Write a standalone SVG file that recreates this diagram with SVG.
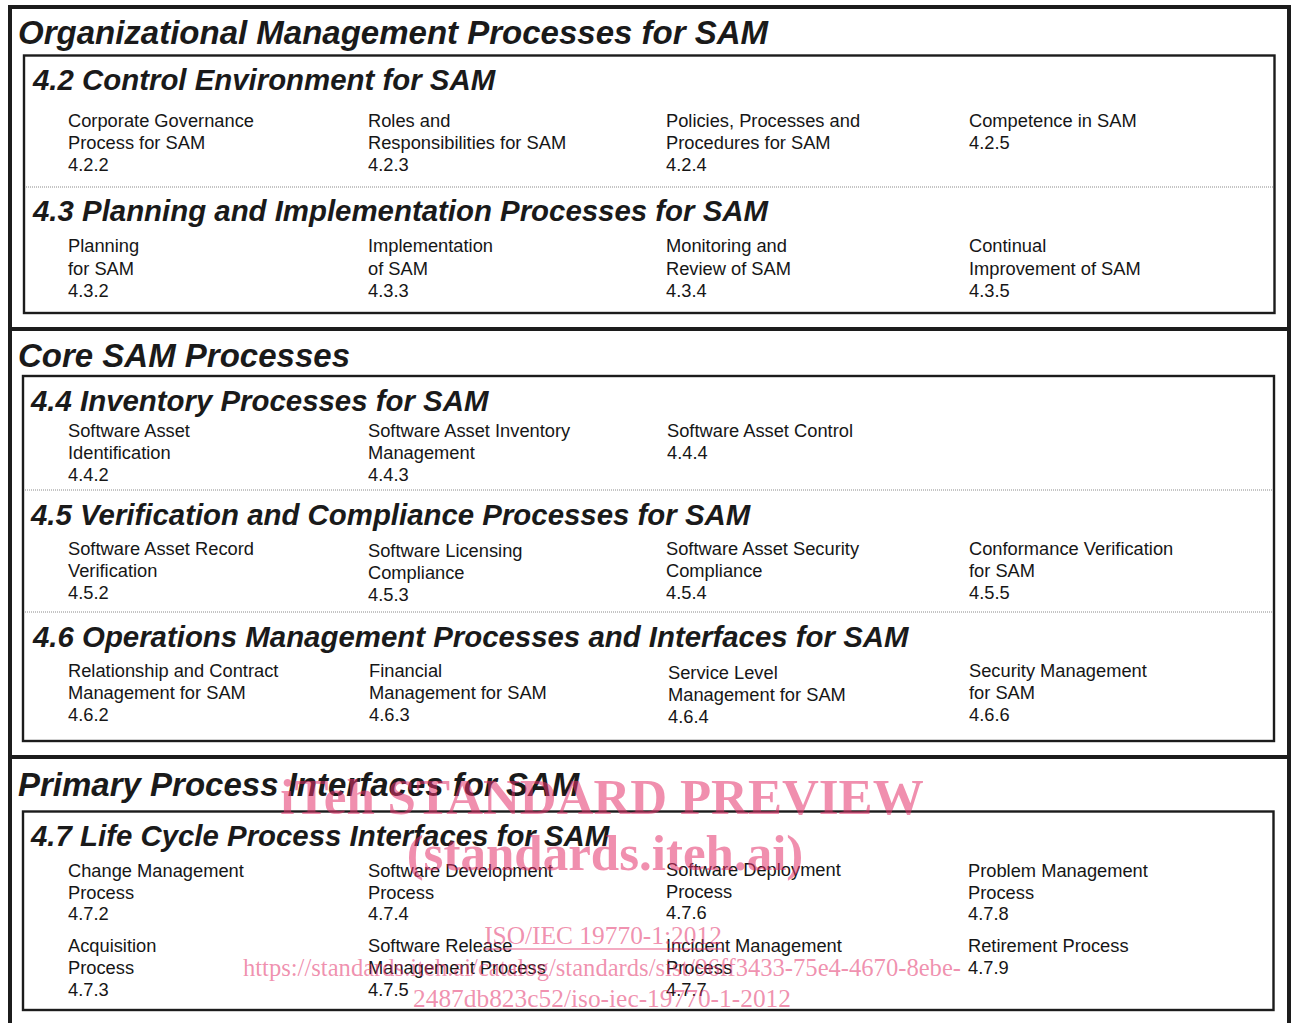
<svg xmlns="http://www.w3.org/2000/svg" width="1296" height="1023" viewBox="0 0 1296 1023">
  <style>
    .frame { fill: none; stroke: #1c1c1c; stroke-width: 4; }
    .box { fill: none; stroke: #1c1c1c; stroke-width: 2.4; }
    .dots { fill: none; stroke: #8a8a8a; stroke-width: 1; stroke-dasharray: 1 1; }
    .h1 { font-family: "Liberation Sans", Arial, sans-serif; font-weight: bold; font-style: italic; font-size: 33px; fill: #1a1a1a; }
    .h2 { font-family: "Liberation Sans", Arial, sans-serif; font-weight: bold; font-style: italic; font-size: 29.4px; fill: #1a1a1a; }
    .item { font-family: "Liberation Sans", Arial, sans-serif; font-size: 18.3px; fill: #161616; }
    .wm { font-family: "Liberation Serif", "Times New Roman", serif; fill: #e3336b; fill-opacity: 0.55; text-anchor: middle; }
    .wm-big { font-size: 51px; font-weight: bold; }
    .wm-small { font-size: 25.4px; }
  </style>

  <rect width="1296" height="1023" fill="#ffffff"/>

  <!-- outer frame and major section dividers -->
  <g id="frame">
    <path class="frame" d="M10 1023 V7 H1289 V1023"/>
    <line class="frame" x1="10" y1="329" x2="1289" y2="329"/>
    <line class="frame" x1="10" y1="757" x2="1289" y2="757"/>
  </g>

  <!-- Organizational Management -->
  <g id="org-mgmt">
    <text class="h1" x="18" y="44">Organizational Management Processes for SAM</text>
    <rect class="box" x="24" y="55.5" width="1250.5" height="257.5"/>
    <line class="dots" x1="26" y1="187" x2="1273" y2="187"/>

    <g id="sec-4-2">
      <text class="h2" x="33" y="90">4.2 Control Environment for SAM</text>
      <g id="n-4-2-2"><text class="item" x="68" y="127">Corporate Governance<tspan x="68" dy="22">Process for SAM</tspan><tspan x="68" dy="22">4.2.2</tspan></text></g>
      <g id="n-4-2-3"><text class="item" x="368" y="127">Roles and<tspan x="368" dy="22">Responsibilities for SAM</tspan><tspan x="368" dy="22">4.2.3</tspan></text></g>
      <g id="n-4-2-4"><text class="item" x="666" y="127">Policies, Processes and<tspan x="666" dy="22">Procedures for SAM</tspan><tspan x="666" dy="22">4.2.4</tspan></text></g>
      <g id="n-4-2-5"><text class="item" x="969" y="127">Competence in SAM<tspan x="969" dy="22">4.2.5</tspan></text></g>
    </g>

    <g id="sec-4-3">
      <text class="h2" x="33" y="221">4.3 Planning and Implementation Processes for SAM</text>
      <g id="n-4-3-2"><text class="item" x="68" y="252">Planning<tspan x="68" dy="22.5">for SAM</tspan><tspan x="68" dy="22.5">4.3.2</tspan></text></g>
      <g id="n-4-3-3"><text class="item" x="368" y="252">Implementation<tspan x="368" dy="22.5">of SAM</tspan><tspan x="368" dy="22.5">4.3.3</tspan></text></g>
      <g id="n-4-3-4"><text class="item" x="666" y="252">Monitoring and<tspan x="666" dy="22.5">Review of SAM</tspan><tspan x="666" dy="22.5">4.3.4</tspan></text></g>
      <g id="n-4-3-5"><text class="item" x="969" y="252">Continual<tspan x="969" dy="22.5">Improvement of SAM</tspan><tspan x="969" dy="22.5">4.3.5</tspan></text></g>
    </g>
  </g>

  <!-- Core SAM -->
  <g id="core-sam">
    <text class="h1" x="18" y="367">Core SAM Processes</text>
    <rect class="box" x="23" y="376" width="1251" height="365"/>
    <line class="dots" x1="25" y1="490" x2="1273" y2="490"/>
    <line class="dots" x1="25" y1="612" x2="1273" y2="612"/>

    <g id="sec-4-4">
      <text class="h2" x="31" y="411">4.4 Inventory Processes for SAM</text>
      <g id="n-4-4-2"><text class="item" x="68" y="437">Software Asset<tspan x="68" dy="22">Identification</tspan><tspan x="68" dy="22">4.4.2</tspan></text></g>
      <g id="n-4-4-3"><text class="item" x="368" y="437">Software Asset Inventory<tspan x="368" dy="22">Management</tspan><tspan x="368" dy="22">4.4.3</tspan></text></g>
      <g id="n-4-4-4"><text class="item" x="667" y="437">Software Asset Control<tspan x="667" dy="22">4.4.4</tspan></text></g>
    </g>

    <g id="sec-4-5">
      <text class="h2" x="31" y="525">4.5 Verification and Compliance Processes for SAM</text>
      <g id="n-4-5-2"><text class="item" x="68" y="555">Software Asset Record<tspan x="68" dy="22">Verification</tspan><tspan x="68" dy="22">4.5.2</tspan></text></g>
      <g id="n-4-5-3"><text class="item" x="368" y="557">Software Licensing<tspan x="368" dy="22">Compliance</tspan><tspan x="368" dy="22">4.5.3</tspan></text></g>
      <g id="n-4-5-4"><text class="item" x="666" y="555">Software Asset Security<tspan x="666" dy="22">Compliance</tspan><tspan x="666" dy="22">4.5.4</tspan></text></g>
      <g id="n-4-5-5"><text class="item" x="969" y="555">Conformance Verification<tspan x="969" dy="22">for SAM</tspan><tspan x="969" dy="22">4.5.5</tspan></text></g>
    </g>

    <g id="sec-4-6">
      <text class="h2" x="33" y="647">4.6 Operations Management Processes and Interfaces for SAM</text>
      <g id="n-4-6-2"><text class="item" x="68" y="677">Relationship and Contract<tspan x="68" dy="22">Management for SAM</tspan><tspan x="68" dy="22">4.6.2</tspan></text></g>
      <g id="n-4-6-3"><text class="item" x="369" y="677">Financial<tspan x="369" dy="22">Management for SAM</tspan><tspan x="369" dy="22">4.6.3</tspan></text></g>
      <g id="n-4-6-4"><text class="item" x="668" y="679">Service Level<tspan x="668" dy="22">Management for SAM</tspan><tspan x="668" dy="22">4.6.4</tspan></text></g>
      <g id="n-4-6-6"><text class="item" x="969" y="677">Security Management<tspan x="969" dy="22">for SAM</tspan><tspan x="969" dy="22">4.6.6</tspan></text></g>
    </g>
  </g>

  <!-- Primary Process Interfaces -->
  <g id="primary-interfaces">
    <text class="h1" x="18" y="796">Primary Process Interfaces for SAM</text>
    <rect class="box" x="23" y="811.5" width="1250.5" height="198.5"/>

    <g id="sec-4-7">
      <text class="h2" x="31" y="846">4.7 Life Cycle Process Interfaces for SAM</text>
      <g id="n-4-7-2"><text class="item" x="68" y="877">Change Management<tspan x="68" dy="21.5">Process</tspan><tspan x="68" dy="21.5">4.7.2</tspan></text></g>
      <g id="n-4-7-4"><text class="item" x="368" y="877">Software Development<tspan x="368" dy="21.5">Process</tspan><tspan x="368" dy="21.5">4.7.4</tspan></text></g>
      <g id="n-4-7-6"><text class="item" x="666" y="876">Software Deployment<tspan x="666" dy="21.5">Process</tspan><tspan x="666" dy="21.5">4.7.6</tspan></text></g>
      <g id="n-4-7-8"><text class="item" x="968" y="877">Problem Management<tspan x="968" dy="21.5">Process</tspan><tspan x="968" dy="21.5">4.7.8</tspan></text></g>
      <g id="n-4-7-3"><text class="item" x="68" y="952">Acquisition<tspan x="68" dy="22">Process</tspan><tspan x="68" dy="22">4.7.3</tspan></text></g>
      <g id="n-4-7-5"><text class="item" x="368" y="952">Software Release<tspan x="368" dy="22">Management Process</tspan><tspan x="368" dy="22">4.7.5</tspan></text></g>
      <g id="n-4-7-7"><text class="item" x="666" y="952">Incident Management<tspan x="666" dy="22">Process</tspan><tspan x="666" dy="22">4.7.7</tspan></text></g>
      <g id="n-4-7-9"><text class="item" x="968" y="952">Retirement Process<tspan x="968" dy="22">4.7.9</tspan></text></g>
    </g>
  </g>

  <!-- preview stamp -->
  <g id="stamp">
    <text class="wm wm-big" x="602" y="814">iTeh STANDARD PREVIEW</text>
    <text class="wm wm-big" x="605" y="870">(standards.iteh.ai)</text>
    <text class="wm wm-small" x="603" y="944">ISO/IEC 19770-1:2012</text>
    <line x1="484" y1="949" x2="722" y2="949" stroke="#e3336b" stroke-opacity="0.55" stroke-width="1.3"/>
    <text class="wm wm-small" x="602" y="976" style="font-size:24.6px">https://standards.iteh.ai/catalog/standards/sist/96ff3433-75e4-4670-8ebe-</text>
    <text class="wm wm-small" x="602" y="1007">2487db823c52/iso-iec-19770-1-2012</text>
  </g>
</svg>
